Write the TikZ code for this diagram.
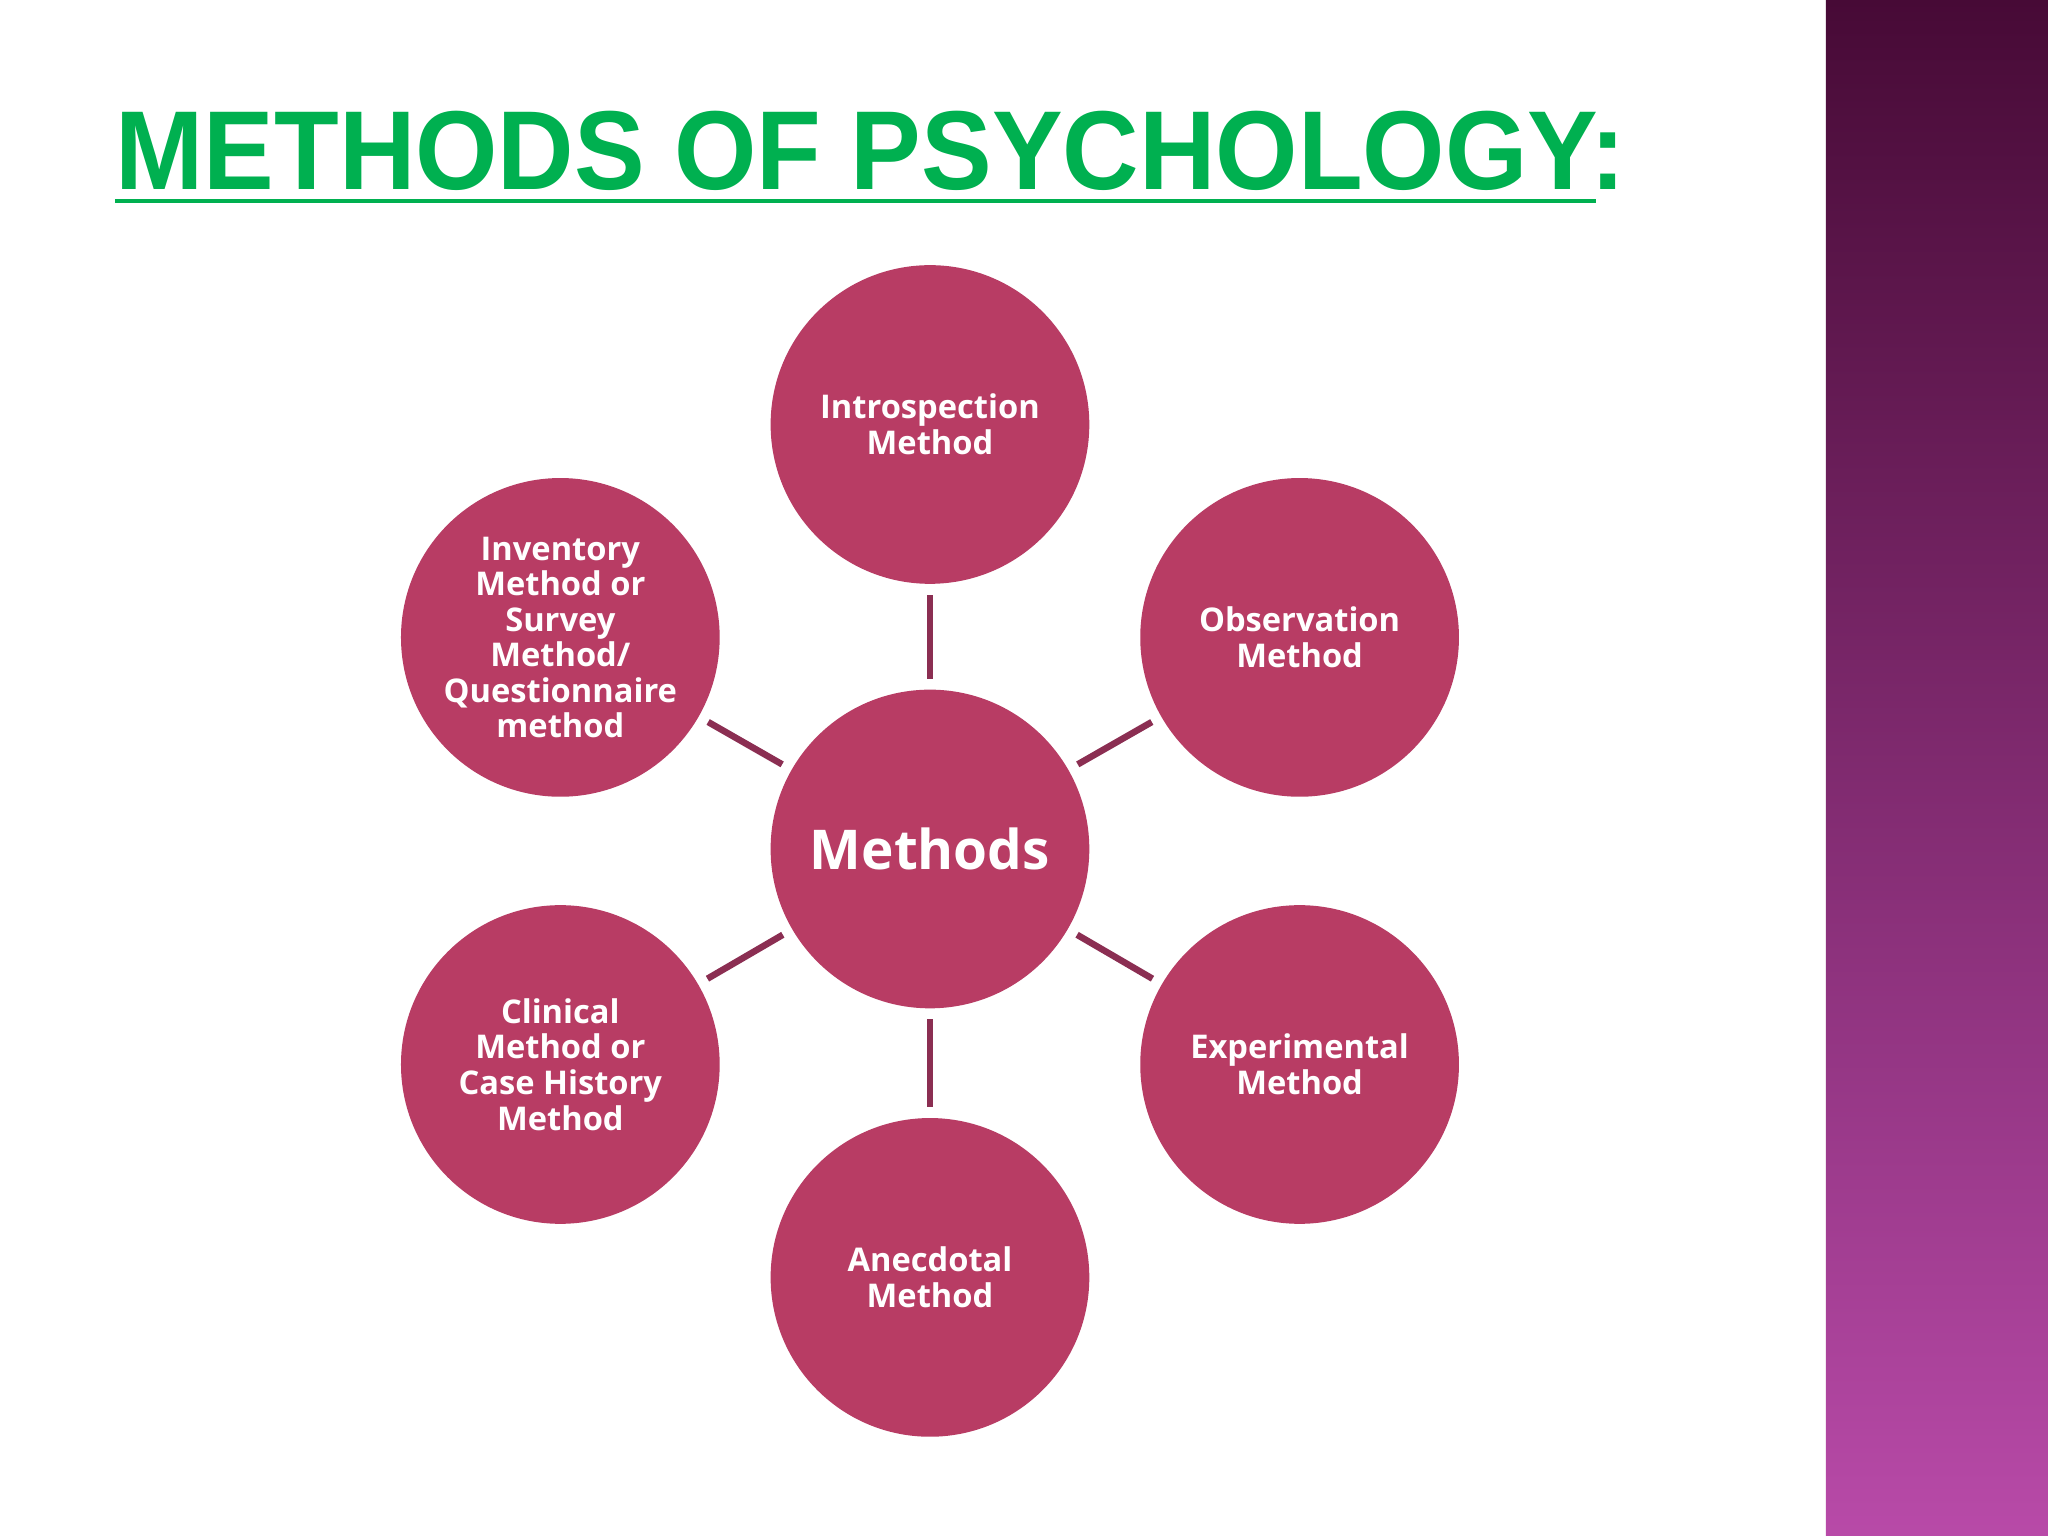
\documentclass[tikz,border=0pt]{standalone}
\usepackage{fontspec}
\setmainfont{Open Sans}
\newfontfamily\titlefont{Liberation Sans}
\definecolor{circ}{HTML}{B83C64}
\definecolor{conn}{HTML}{8B2E52}
\definecolor{tgreen}{HTML}{00B050}
\definecolor{bandtop}{HTML}{470A36}
\definecolor{bandbot}{HTML}{B84AA8}
\begin{document}
\begin{tikzpicture}[x=0.5pt,y=-0.5pt,
  bub/.style={circle,fill=circ,minimum size=122pt,inner sep=0pt,text=white,align=center,font=\fontsize{12.5}{13.6}\selectfont\bfseries},
  link/.style={draw=conn,line width=2.5pt,shorten <=4pt,shorten >=4pt}]
\useasboundingbox (0,0) rectangle (1568,1176);
\fill[white] (0,0) rectangle (1568,1176);
\shade[top color=bandtop,bottom color=bandbot] (1398,0) rectangle (1568,1176);
\node[anchor=base west,inner sep=0pt,text=tgreen] (title) at (88,145)
  {\resizebox{578pt}{30pt}{\titlefont\bfseries METHODS OF PSYCHOLOGY:}};
\draw[tgreen,line width=1.8pt] (88,154) coordinate (u1) -- (1222,154) coordinate (u2);
\node[bub,font=\fontsize{21}{24}\selectfont\bfseries] (c) at (712,650) {Methods};
\node[bub] (n1) at (712,325) {Introspection\\Method};
\node[bub] (n2) at (995,488) {Observation\\Method};
\node[bub] (n3) at (995,815) {Experimental\\Method};
\node[bub] (n4) at (712,978) {Anecdotal\\Method};
\node[bub] (n5) at (429,815) {Clinical\\Method or\\Case History\\Method};
\node[bub] (n6) at (429,488) {Inventory\\Method or\\Survey\\Method/\\Questionnaire\\method};
\foreach \n in {n1,n2,n3,n4,n5,n6} \draw[link] (c) -- (\n);
\end{tikzpicture}
\end{document}
